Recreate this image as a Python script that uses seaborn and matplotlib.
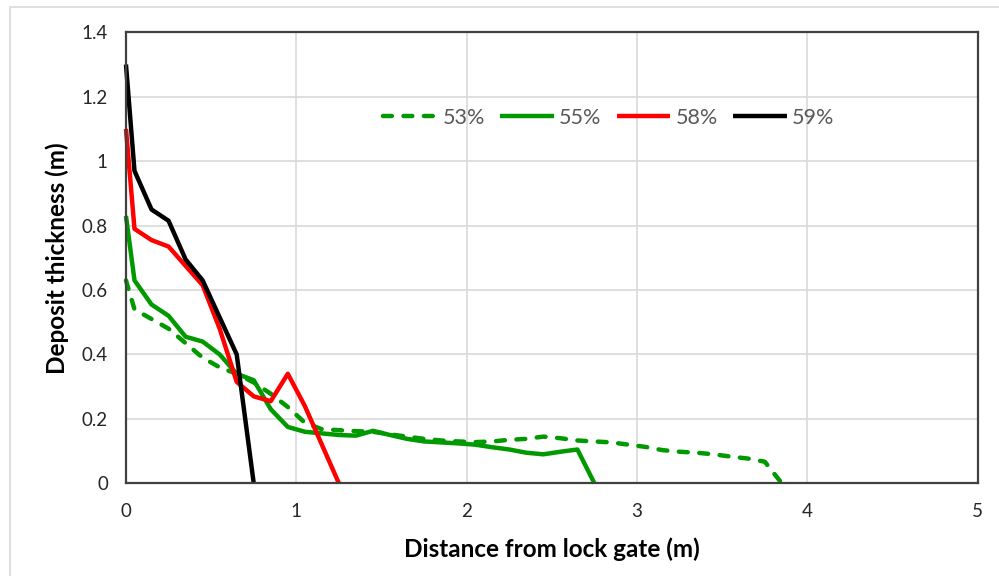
import matplotlib.pyplot as plt
import matplotlib.patches as patches
import pandas as pd
import seaborn as sns

# deposit profiles
x53 = [0, 0.05, 0.15, 0.25, 0.35, 0.45, 0.55, 0.65, 0.75, 0.85, 0.95, 1.05, 1.15, 1.25,
       1.35, 1.45, 1.55, 1.65, 1.75, 1.85, 1.95, 2.05, 2.15, 2.25, 2.35, 2.45, 2.55, 2.65,
       2.75, 2.85, 2.95, 3.05, 3.15, 3.25, 3.35, 3.45, 3.55, 3.65, 3.75, 3.85]
y53 = [0.63, 0.54, 0.51, 0.48, 0.435, 0.39, 0.36, 0.34, 0.313, 0.278, 0.237, 0.188, 0.168, 0.165,
       0.162, 0.16, 0.152, 0.145, 0.138, 0.133, 0.13, 0.128, 0.13, 0.135, 0.138, 0.145, 0.14, 0.133,
       0.13, 0.127, 0.12, 0.113, 0.103, 0.098, 0.095, 0.09, 0.083, 0.077, 0.067, 0.0]

x55 = [0, 0.05, 0.15, 0.25, 0.35, 0.45, 0.55, 0.65, 0.75, 0.85, 0.95, 1.05, 1.15, 1.25,
       1.35, 1.45, 1.55, 1.65, 1.75, 1.85, 1.95, 2.05, 2.15, 2.25, 2.35, 2.45, 2.55, 2.65, 2.75]
y55 = [0.83, 0.63, 0.555, 0.52, 0.455, 0.44, 0.40, 0.34, 0.32, 0.23, 0.175, 0.16, 0.155, 0.15,
       0.148, 0.163, 0.15, 0.138, 0.13, 0.127, 0.124, 0.12, 0.112, 0.105, 0.095, 0.09, 0.098, 0.105, 0.0]

x58 = [0, 0.05, 0.15, 0.25, 0.35, 0.45, 0.55, 0.65, 0.75, 0.85, 0.95, 1.05, 1.15, 1.25]
y58 = [1.10, 0.79, 0.755, 0.735, 0.675, 0.615, 0.48, 0.315, 0.27, 0.255, 0.34, 0.24, 0.12, 0.0]

x59 = [0, 0.05, 0.15, 0.25, 0.35, 0.45, 0.55, 0.65, 0.75]
y59 = [1.30, 0.97, 0.85, 0.815, 0.695, 0.63, 0.515, 0.40, 0.0]

labels = ["53%", "55%", "58%", "59%"]
colors = ["#009900", "#009900", "#FF0000", "#000000"]

sns.set_theme(style="white")
plt.rcParams["font.family"] = ["Lato", "DejaVu Sans"]

fig = plt.figure(figsize=(9.99, 5.76), dpi=100)
ax = fig.add_axes([0.1261, 0.1609, 0.8526, 0.783])

# light border around the chart area
fig.patches.append(patches.Rectangle((0.010, -0.05), 1.2, 1.038, transform=fig.transFigure,
                                     fill=False, edgecolor="#D9D9D9", linewidth=1.2))

series = [(x53, y53), (x55, y55), (x58, y58), (x59, y59)]
for (xs, ys), lab, col in zip(series, labels, colors):
    df = pd.DataFrame({"x": xs, "y": ys})
    sns.lineplot(data=df, x="x", y="y", ax=ax, color=col, linewidth=3.2,
                 label=lab, sort=False, clip_on=False)

# dashed style for the 53% profile
l53 = ax.lines[0]
l53.set_dashes((2.0, 2.6))
l53.set_dash_capstyle("round")
for ln in ax.lines[1:]:
    ln.set_solid_capstyle("butt")

ax.set_xlim(0, 5)
ax.set_ylim(0, 1.4)
ax.set_xticks([0, 1, 2, 3, 4, 5])
ax.set_xticklabels(["0", "1", "2", "3", "4", "5"])
ax.set_yticks([0, 0.2, 0.4, 0.6, 0.8, 1.0, 1.2, 1.4])
ax.set_yticklabels(["0", "0.2", "0.4", "0.6", "0.8", "1", "1.2", "1.4"])
ax.grid(True, color="#D9D9D9", linewidth=1.2)
ax.set_axisbelow(True)
ax.tick_params(axis="both", length=0, labelsize=13.5, labelcolor="#262626")
ax.tick_params(axis="x", pad=14)
ax.tick_params(axis="y", pad=13)

for sp in ax.spines.values():
    sp.set_color("#404040")
    sp.set_linewidth(1.6)
    sp.set_visible(True)

ax.set_xlabel("Distance from lock gate (m)", fontsize=17.5, fontweight="bold", color="black", labelpad=13)
ax.set_ylabel("Deposit thickness (m)", fontsize=17.5, fontweight="bold", color="black", labelpad=9)

leg = ax.legend(loc="center", bbox_to_anchor=(0.567, 0.81), ncol=4, frameon=False,
                fontsize=15.5, handlelength=2.5, handletextpad=0.25, columnspacing=0.7)
for t in leg.get_texts():
    t.set_color("#595959")

fig.savefig("out.png", dpi=100)
